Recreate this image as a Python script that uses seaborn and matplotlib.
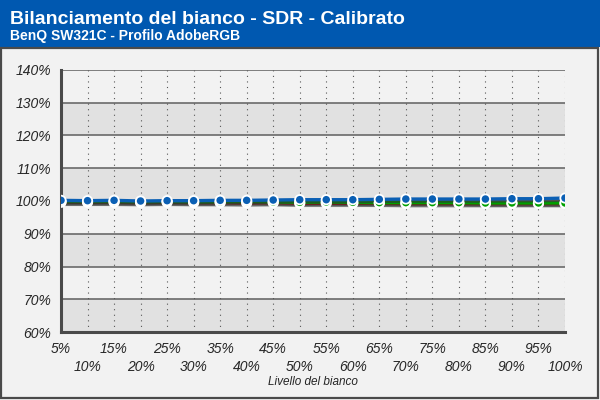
import numpy as np
import pandas as pd
import seaborn as sns
import matplotlib.pyplot as plt
import matplotlib.patheffects as pe
from matplotlib.patches import Rectangle

# Data
livelli = [5, 10, 15, 20, 25, 30, 35, 40, 45, 50, 55, 60, 65, 70, 75, 80, 85, 90, 95, 100]
rosso = [99.6, 99.6, 99.6, 99.5, 99.6, 99.5, 99.5, 99.4, 99.5, 99.3,
         99.3, 99.3, 99.3, 99.2, 99.2, 99.2, 99.2, 99.2, 99.2, 99.2]
verde = [99.8, 99.8, 99.8, 99.7, 99.8, 99.7, 99.7, 99.8, 99.7, 99.6,
         99.7, 99.6, 99.5, 99.5, 99.5, 99.5, 99.4, 99.4, 99.4, 99.4]
blu = [100.2, 100.1, 100.2, 100.0, 100.1, 100.1, 100.2, 100.2, 100.3, 100.4,
       100.4, 100.4, 100.5, 100.6, 100.6, 100.6, 100.6, 100.7, 100.7, 100.9]
y_ticks = [60, 70, 80, 90, 100, 110, 120, 130, 140]

df = pd.DataFrame({
    'livello': livelli * 3,
    'valore': rosso + verde + blu,
    'canale': ['Rosso'] * 20 + ['Verde'] * 20 + ['Blu'] * 20,
})
colori = {'Rosso': '#c00000', 'Verde': '#00a000', 'Blu': '#0a5fb4'}
ordine = ['Rosso', 'Verde', 'Blu']

sns.set_style('white')
plt.rcParams['font.family'] = ['Liberation Sans', 'DejaVu Sans']

fig = plt.figure(figsize=(6, 4), dpi=100)
fig.patch.set_facecolor('#f2f2f2')

# header band and frame
fig.patches.append(Rectangle((0, 1 - 47 / 400), 1, 47 / 400, transform=fig.transFigure,
                             facecolor='#0058b0', edgecolor='none', zorder=0))
fig.patches.append(Rectangle((0.002, 0.004), 0.995, 1 - 47 / 400 - 0.006, transform=fig.transFigure,
                             facecolor='none', edgecolor='#4a4a4a', linewidth=1.6, zorder=1))
fig.text(10 / 600, 1 - 24 / 400, 'Bilanciamento del bianco - SDR - Calibrato',
         color='white', fontsize=14, fontweight='bold')
fig.text(10 / 600, 1 - 40 / 400, 'BenQ SW321C - Profilo AdobeRGB',
         color='white', fontsize=10, fontweight='bold')

ax = fig.add_axes([61 / 600, 68 / 400, 504 / 600, 262 / 400])
ax.set_facecolor('#f2f2f2')

# alternating bands
for i, lo in enumerate(y_ticks[:-1]):
    if i % 2 == 0:
        ax.axhspan(lo, lo + 10, color='#e1e1e1', zorder=0, lw=0)
for t in y_ticks[1:]:
    ax.axhline(t, color='#6a6a6a', lw=1.2, zorder=1)
for x in livelli[1:]:
    ax.axvline(x, color='#555555', lw=0.8, ls=(0, (1, 4)), zorder=1)

# lines with a drop shadow, then markers on top
sns.lineplot(data=df, x='livello', y='valore', hue='canale', palette=colori,
             hue_order=ordine, linewidth=2.4, legend=False, ax=ax, zorder=3)
for line in ax.lines[-3:]:
    line.set_path_effects([pe.SimpleLineShadow(offset=(0, -1.5), shadow_color='#333333', alpha=0.6),
                           pe.Normal()])
sns.scatterplot(data=df, x='livello', y='valore', hue='canale', palette=colori,
                hue_order=ordine, s=45, edgecolor='white', linewidth=1.3,
                legend=False, ax=ax, zorder=4)

ax.set_xlim(5, 100)
ax.set_ylim(60, 140)
ax.set_yticks(y_ticks)
ax.set_yticklabels([f'{t}%' for t in y_ticks], fontstyle='italic', fontsize=10)
ax.set_xticks(livelli[0::2])
ax.set_xticklabels([f'{x}%' for x in livelli[0::2]], fontstyle='italic', fontsize=10)
ax.set_xticks(livelli[1::2], minor=True)
ax.set_xticklabels([f'{x}%' for x in livelli[1::2]], minor=True, fontstyle='italic', fontsize=10)
ax.tick_params(axis='both', which='both', direction='out', length=5, width=2, color='#4a4a4a', pad=2)
ax.tick_params(axis='x', which='minor', pad=15)
ax.set_xlabel('Livello del bianco', fontstyle='italic', fontsize=8.5)
ax.xaxis.set_label_coords(0.5, -0.168)
ax.set_ylabel('')

for s in ['top', 'right']:
    ax.spines[s].set_visible(False)
for s in ['left', 'bottom']:
    ax.spines[s].set_color('#4a4a4a')
    ax.spines[s].set_linewidth(2.2)

fig.savefig('out.png', dpi=100, facecolor=fig.get_facecolor())
